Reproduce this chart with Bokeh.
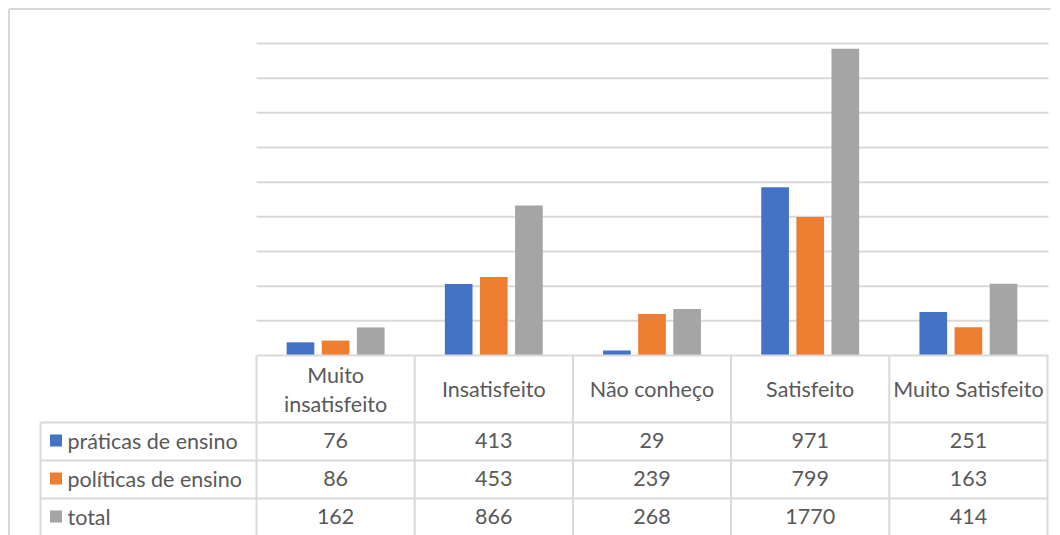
from bokeh.plotting import figure
from bokeh.models import Range1d
from bokeh.core.properties import value
from bokeh.embed import file_html
from bokeh.resources import INLINE

categories = ["Muito\ninsatisfeito", "Insatisfeito", "Não conheço", "Satisfeito", "Muito Satisfeito"]
series_names = ["práticas de ensino", "políticas de ensino", "total"]
praticas = [76, 413, 29, 971, 251]
politicas = [86, 453, 239, 799, 163]
total = [162, 866, 268, 1770, 414]
grid_values = [200, 400, 600, 800, 1000, 1200, 1400, 1600, 1800]
colors = ["#4472C4", "#ED7D31", "#A5A5A5"]
series = [praticas, politicas, total]

# layout (pixel geometry of the picture)
W, H = 1060, 535
MARGIN = 0
COLW = 158.2          # px per category
X0 = 256              # left edge of plot area (picture px)
BASE = 355            # baseline (picture px)
PXU = 312 / 1800      # px per unit

def gx(px):
    return (px - X0) / COLW

def gy(py):
    return (BASE - py) / PXU

p = figure(width=W, height=H, output_backend="svg", toolbar_location=None,
           x_range=Range1d(gx(MARGIN), gx(MARGIN + W)),
           y_range=Range1d(gy(MARGIN + H), gy(MARGIN)),
           min_border=0, outline_line_color=None)
p.axis.visible = False
p.grid.visible = False
p.background_fill_color = "white"
p.border_fill_color = "white"

GRID = "#d9d9d9"
TXT = "#595959"
FONT = value("Lato")
FS = "21.5px"

# outer border (top and left)
p.segment(x0=[gx(8.5), gx(8.5)], y0=[gy(8.5), gy(8.5)], x1=[gx(1050), gx(8.5)], y1=[gy(8.5), gy(540)],
          line_color=GRID, line_width=2)

# gridlines
p.segment(x0=[gx(256)] * len(grid_values), y0=grid_values,
          x1=[gx(1048)] * len(grid_values), y1=grid_values, line_color=GRID, line_width=2)

# bars
n = len(categories)
offs = [-0.222, 0.0, 0.222]
bw = 0.175
for s, vals in enumerate(series):
    xs = [i + 0.5 + offs[s] for i in range(n)]
    p.vbar(x=xs, top=vals, bottom=0, width=bw, fill_color=colors[s], line_color=None)

# baseline
p.segment(x0=[gx(256)], y0=[0], x1=[gx(1048)], y1=[0], line_color=GRID, line_width=2)

# data table
row_lines = [422, 460, 498]
p.segment(x0=[gx(40)] * 3, y0=[gy(r) for r in row_lines],
          x1=[gx(1047)] * 3, y1=[gy(r) for r in row_lines], line_color=GRID, line_width=2)
col_lines = [i for i in range(n + 1)]
p.segment(x0=col_lines, y0=[0] * (n + 1), x1=col_lines, y1=[gy(540)] * (n + 1),
          line_color=GRID, line_width=2)
p.segment(x0=[gx(40)], y0=[gy(422)], x1=[gx(40)], y1=[gy(540)], line_color=GRID, line_width=2)

# header labels
hx, hy, ht = [], [], []
for i, c in enumerate(categories):
    lines = c.split("\n")
    if len(lines) == 2:
        hx += [i + 0.5, i + 0.5]
        hy += [gy(374), gy(403)]
        ht += lines
    else:
        hx.append(i + 0.5)
        hy.append(gy(388))
        ht.append(c)
p.text(x=hx, y=hy, text=ht, text_align="center", text_baseline="middle",
       text_font=FONT, text_font_size=FS, text_color=TXT)

# rows
row_centers = [440, 478, 516]
for r, (name, vals) in enumerate(zip(series_names, series)):
    yc = gy(row_centers[r])
    p.text(x=[i + 0.5 for i in range(n)], y=[yc] * n, text=[str(v) for v in vals],
           text_align="center", text_baseline="middle",
           text_font=FONT, text_font_size=FS, text_color=TXT)
    p.rect(x=[gx(55.5)], y=[yc], width=12, height=12, width_units="screen", height_units="screen",
           fill_color=colors[r], line_color=None)
    p.text(x=[gx(67)], y=[yc], text=[name], text_align="left", text_baseline="middle",
           text_font=FONT, text_font_size=FS, text_color=TXT)

open("out.html", "w").write(file_html(p, INLINE))
